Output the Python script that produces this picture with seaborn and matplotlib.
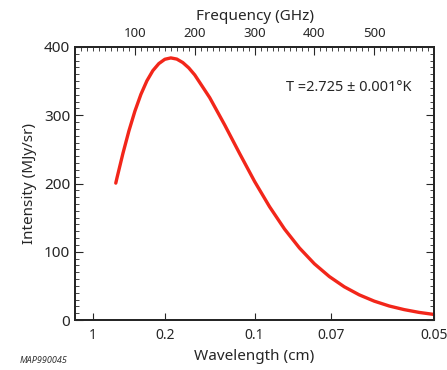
import numpy as np
import pandas as pd
import matplotlib
matplotlib.use("Agg")
import matplotlib.pyplot as plt
import seaborn as sns
from matplotlib.ticker import MultipleLocator

# values
freq_ghz = [68, 70, 80, 90, 100, 110, 120, 130, 140, 150, 160, 170, 180, 190,
            200, 225, 250, 275, 300, 325, 350, 375, 400, 425, 450, 475, 500,
            525, 550, 575, 600]
intensity = [200.6, 208.2, 244.3, 277.2, 306.1, 330.6, 350.4, 365.4, 375.7, 382.0,
             384.0, 382.3, 377.2, 369.4, 359.1, 325.8, 285.9, 244.0, 203.1, 166.1,
             133.4, 105.6, 82.4, 63.7, 48.7, 36.9, 27.7, 20.6, 15.3, 11.2, 8.2]
wave_ticks = [30, 150, 300, 428.57, 600]
wave_labels = ["1", "0.2", "0.1", "0.07", "0.05"]
freq_ticks = [100, 200, 300, 400, 500]

df = pd.DataFrame({"freq": freq_ghz, "I": intensity})

sns.set_style("ticks")
plt.rcParams['font.family'] = ['Noto Sans', 'DejaVu Sans']

fig = plt.figure(figsize=(4.47, 3.7), dpi=100)
ax = fig.add_axes([0.168, 0.135, 0.803, 0.738])
sns.lineplot(data=df, x="freq", y="I", color="#f2261a", linewidth=2.4, ax=ax)

ax.set_xlim(0, 600)
ax.set_ylim(0, 400)
ax.set_xticks(wave_ticks)
ax.set_xticklabels(wave_labels)
ax.set_yticks([0, 100, 200, 300, 400])
ax.yaxis.set_minor_locator(MultipleLocator(10))
ax.tick_params(axis="x", direction="in", length=5, width=0.8, labelsize=10, pad=6)
ax.tick_params(axis="y", which="major", direction="in", length=6, width=0.8,
               labelsize=11, right=True)
ax.tick_params(axis="y", which="minor", direction="in", length=3, width=0.6, right=True)
ax.set_xlabel("Wavelength (cm)", fontsize=11, labelpad=4)
ax.set_ylabel("Intensity (MJy/sr)", fontsize=11, labelpad=5)
for s in ax.spines.values():
    s.set_linewidth(1.4)
    s.set_visible(True)

top = ax.twiny()
top.set_xlim(0, 600)
top.set_xticks(freq_ticks)
top.xaxis.set_minor_locator(MultipleLocator(10))
top.tick_params(axis="x", which="major", direction="in", length=6, width=0.8,
                labelsize=9.5, pad=5)
top.tick_params(axis="x", which="minor", direction="in", length=3, width=0.6)
top.set_xlabel("Frequency (GHz)", fontsize=11, labelpad=5)
for s in top.spines.values():
    s.set_linewidth(1.4)

ax.text(563, 340, "T =2.725 \u00b1 0.001\u00b0K", fontsize=10.5, ha="right", va="center")
fig.text(0.045, 0.018, "MAP990045", fontsize=6.5, style="italic", color="#333333")

plt.savefig("out.png", dpi=100)
